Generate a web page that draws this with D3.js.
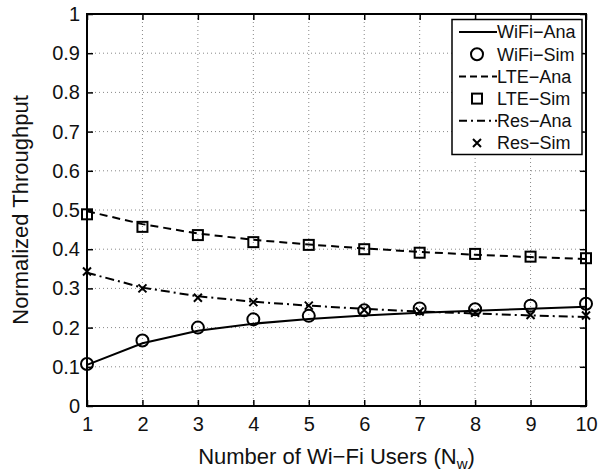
<!DOCTYPE html>
<html><head><meta charset="utf-8">
<script src="https://cdn.jsdelivr.net/npm/d3@7"></script>
<style>body{margin:0;background:#fff}</style>
</head><body>
<svg id="c" width="603" height="472"></svg>
<script>
const users = [1,2,3,4,5,6,7,8,9,10];
const wifiAna = [0.105,0.160,0.192,0.210,0.222,0.231,0.238,0.243,0.248,0.253];
const wifiSim = [0.107,0.167,0.200,0.221,0.230,0.244,0.249,0.247,0.256,0.261];
const lteAna  = [0.497,0.464,0.440,0.424,0.412,0.402,0.393,0.386,0.380,0.375];
const lteSim  = [0.489,0.457,0.436,0.418,0.411,0.400,0.391,0.388,0.381,0.377];
const resAna  = [0.340,0.302,0.280,0.266,0.256,0.248,0.241,0.236,0.231,0.227];
const resSim  = [0.343,0.300,0.276,0.265,0.256,0.245,0.241,0.238,0.232,0.231];
const yTicks = [0,0.1,0.2,0.3,0.4,0.5,0.6,0.7,0.8,0.9,1];
const legendLabels = ["WiFi\u2212Ana","WiFi\u2212Sim","LTE\u2212Ana","LTE\u2212Sim","Res\u2212Ana","Res\u2212Sim"];

const L=87, R=586, T=14, B=406;
const svg = d3.select("#c");
const font = "Liberation Sans, Arial, Helvetica, sans-serif";
const x = d3.scaleLinear().domain([1,10]).range([L,R]);
const y = d3.scaleLinear().domain([0,1]).range([B,T]);

// grid
const g = svg.append("g");
g.selectAll(".gx").data(users.slice(1,-1)).enter().append("line")
  .attr("x1",d=>x(d)).attr("x2",d=>x(d)).attr("y1",T).attr("y2",B)
  .attr("stroke","#888").attr("stroke-width",1).attr("stroke-dasharray","1,3");
g.selectAll(".gy").data(yTicks.slice(1,-1)).enter().append("line")
  .attr("y1",d=>y(d)).attr("y2",d=>y(d)).attr("x1",L).attr("x2",R)
  .attr("stroke","#888").attr("stroke-width",1).attr("stroke-dasharray","1,3");

// axes
const xa = svg.append("g").attr("transform",`translate(0,${B})`)
  .call(d3.axisBottom(x).tickValues(users).tickFormat(d3.format("d")).tickSizeInner(-6).tickSizeOuter(0).tickPadding(11));
const xt = svg.append("g").attr("transform",`translate(0,${T})`)
  .call(d3.axisTop(x).tickValues(users).tickFormat("").tickSizeInner(-6).tickSizeOuter(0));
const ya = svg.append("g").attr("transform",`translate(${L},0)`)
  .call(d3.axisLeft(y).tickValues(yTicks).tickFormat(d=>d===0?"0":d===1?"1":d3.format(".1f")(d)).tickSizeInner(-6).tickSizeOuter(0).tickPadding(7));
const yr = svg.append("g").attr("transform",`translate(${R},0)`)
  .call(d3.axisRight(y).tickValues(yTicks).tickFormat("").tickSizeInner(-6).tickSizeOuter(0));
[xa,xt,ya,yr].forEach(a=>{
  a.select(".domain").remove();
  a.selectAll(".tick line").attr("stroke","#000").attr("stroke-width",1.5);
  a.selectAll("text").attr("font-family",font).attr("font-size",20).attr("fill","#111");
});
svg.append("rect").attr("x",L).attr("y",T).attr("width",R-L).attr("height",B-T)
  .attr("fill","none").attr("stroke","#000").attr("stroke-width",2);

const line = d3.line().x((d,i)=>x(users[i])).y(d=>y(d));
function drawLine(data, dash){
  svg.append("path").datum(data).attr("d",line).attr("fill","none")
    .attr("stroke","#000").attr("stroke-width",2).attr("stroke-dasharray",dash);
}
drawLine(wifiAna,null);
drawLine(lteAna,"8,5");
drawLine(resAna,"9,4,2,4");

function circle(sel,cx,cy){sel.append("circle").attr("cx",cx).attr("cy",cy).attr("r",6).attr("fill","none").attr("stroke","#000").attr("stroke-width",2);}
function square(sel,cx,cy){sel.append("rect").attr("x",cx-5).attr("y",cy-5).attr("width",10).attr("height",10).attr("fill","none").attr("stroke","#000").attr("stroke-width",2);}
function cross(sel,cx,cy){const s=4;sel.append("path").attr("d",`M${cx-s},${cy-s}L${cx+s},${cy+s}M${cx-s},${cy+s}L${cx+s},${cy-s}`).attr("stroke","#000").attr("stroke-width",2);}
users.forEach((u,i)=>{
  circle(svg,x(u),y(wifiSim[i]));
  square(svg,x(u),y(lteSim[i]));
  cross(svg,x(u),y(resSim[i]));
});

// legend
const lg = svg.append("g");
lg.append("rect").attr("x",452).attr("y",19.5).attr("width",130).attr("height",135)
  .attr("fill","#fff").attr("stroke","#000").attr("stroke-width",1.5);
const kinds = ["solid","circle","dash","square","dashdot","cross"];
legendLabels.forEach((lab,i)=>{
  const cy = 32 + i*22.2;
  const k = kinds[i];
  if(k==="solid"||k==="dash"||k==="dashdot"){
    lg.append("line").attr("x1",459).attr("x2",497).attr("y1",cy).attr("y2",cy)
      .attr("stroke","#000").attr("stroke-width",2)
      .attr("stroke-dasharray",k==="dash"?"7,4":k==="dashdot"?"8,4,2,4":null);
  } else if(k==="circle") circle(lg,477,cy);
  else if(k==="square") square(lg,477,cy);
  else cross(lg,477,cy);
  lg.append("text").attr("x",497).attr("y",cy).attr("dy","0.36em")
    .attr("font-family",font).attr("font-size",18).attr("fill","#111").text(lab);
});

// axis labels
const xl = svg.append("text").attr("x",(L+R)/2).attr("y",464).attr("text-anchor","middle")
  .attr("font-family",font).attr("font-size",22).attr("fill","#111");
xl.append("tspan").text("Number of Wi\u2212Fi Users (N");
xl.append("tspan").attr("font-size",15).attr("dy",5).text("w");
xl.append("tspan").attr("dy",-5).text(")");
svg.append("text").attr("transform",`translate(28,${(T+B)/2}) rotate(-90)`)
  .attr("text-anchor","middle").attr("font-family",font).attr("font-size",22).attr("fill","#111")
  .text("Normalized Throughput");
</script>
</body></html>
